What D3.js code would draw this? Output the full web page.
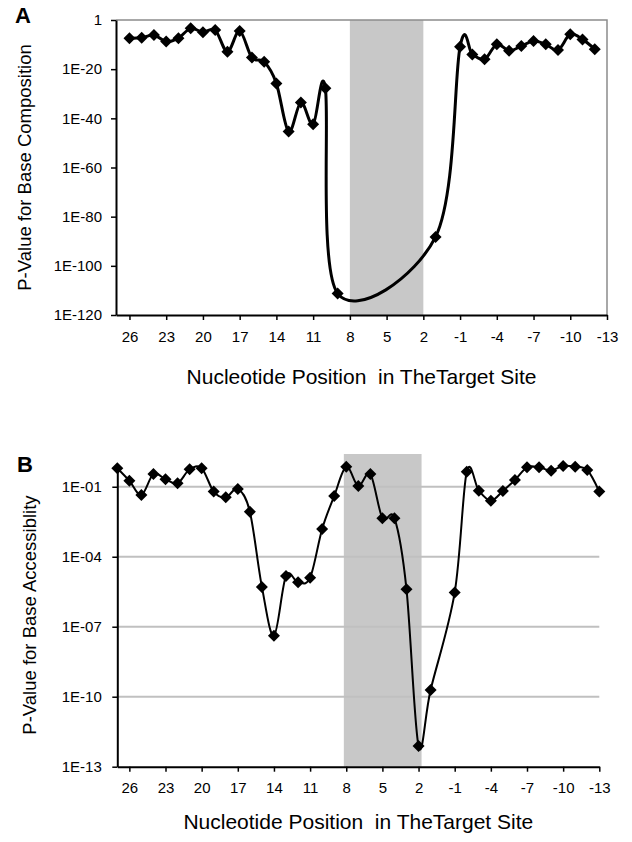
<!DOCTYPE html>
<html>
<head>
<meta charset="utf-8">
<script src="https://cdn.jsdelivr.net/npm/d3@7"></script>
<style>
  html, body { margin: 0; padding: 0; background: #fff; }
  svg { display: block; font-family: "Liberation Sans", Arial, sans-serif; }
  .title { white-space: pre; }
</style>
</head>
<body>
<svg id="chart" width="632" height="842"></svg>
<script>
// ---------- data ----------
// Panel A: P-value for base composition
const posA = [26,25,24,23,22,21,20,19,18,17,16,15,14,13,12,11,10,9,1,-1,-2,-3,-4,-5,-6,-7,-8,-9,-10,-11,-12];
const pA = [4e-8,6e-8,8e-7,1.6e-9,4e-8,4e-4,1e-5,8e-5,1.3e-13,3e-5,5e-16,1e-17,1.6e-26,4e-46,2.5e-34,4e-43,1.6e-28,6e-112,6e-89,
            1.3e-11,1e-14,1e-16,1.3e-10,3e-13,2.5e-11,3e-9,1.3e-10,6e-13,1.6e-6,1.3e-8,1.3e-12];
// Panel B: P-value for base accessibility
const posB = [27,26,25,24,23,22,21,20,19,18,17,16,15,14,13,12,11,10,9,8,7,6,5,4,3,2,1,-1,-2,-3,-4,-5,-6,-7,-8,-9,-10,-11,-12,-13];
const pB = [0.62,0.18,0.044,0.35,0.21,0.14,0.56,0.62,0.062,0.035,0.08,0.0085,5.1e-6,4.1e-8,1.5e-5,8e-6,1.26e-5,1.55e-3,0.04,
            0.72,0.107,0.35,4.5e-3,4.5e-3,4e-6,7.8e-13,1.95e-10,2.95e-6,0.44,0.068,0.025,0.066,0.195,0.68,0.68,0.49,0.78,0.72,0.52,0.062];
const xTicks = [26,23,20,17,14,11,8,5,2,-1,-4,-7,-10,-13];
const xTickLabels = ["26","23","20","17","14","11","8","5","2","-1","-4","-7","-10","-13"];
const yTicksA = [1,1e-20,1e-40,1e-60,1e-80,1e-100,1e-120];
const yTickLabelsA = ["1","1E-20","1E-40","1E-60","1E-80","1E-100","1E-120"];
const yTicksB = [1e-1,1e-4,1e-7,1e-10,1e-13];
const yTickLabelsB = ["1E-01","1E-04","1E-07","1E-10","1E-13"];
const shadeA = [8, 2];
const shadeB = [8.2, 1.75];
const xTitle = "Nucleotide Position  in TheTarget Site";
const yTitleA = "P-Value for Base Composition";
const yTitleB = "P-Value for Base Accessiblity";

// ---------- drawing ----------
const svg = d3.select("#chart");
const diamond = d3.symbol().type(d3.symbolSquare).size(72);
const curve = d3.curveCardinal.tension(0);

function panel(cfg) {
  const g = svg.append("g");
  const x = d3.scaleLinear().domain(cfg.xDomain).range(cfg.xRange);
  const y = d3.scaleLog().domain(cfg.yDomain).range(cfg.yRange);
  const [x0, x1] = cfg.xRange;
  const [yb, yt] = cfg.yRange;

  // shaded region
  g.append("rect")
    .attr("x", x(cfg.shade[0])).attr("width", x(cfg.shade[1]) - x(cfg.shade[0]))
    .attr("y", cfg.shadeTop).attr("height", yb - cfg.shadeTop)
    .attr("fill", "#c8c8c8");

  // gridlines
  if (cfg.grid) {
    g.selectAll(".grid").data(cfg.yTicks.slice(0, -1)).join("line")
      .attr("x1", x0).attr("x2", x1)
      .attr("y1", d => y(d)).attr("y2", d => y(d))
      .attr("stroke", "#c0c0c0").attr("stroke-width", 2);
  }
  // frame
  if (cfg.frame) {
    g.append("path")
      .attr("d", `M${x0},${yt}H${x1}V${yb}`)
      .attr("fill", "none").attr("stroke", "#8c8c8c").attr("stroke-width", 1.5);
  }

  // axes
  const xa = g.append("g").attr("transform", `translate(0,${yb})`)
    .call(d3.axisBottom(x).tickValues(xTicks).tickFormat((d, i) => xTickLabels[i])
      .tickSize(5).tickSizeOuter(0).tickPadding(cfg.xPad));
  const ya = g.append("g").attr("transform", `translate(${x0},0)`)
    .call(d3.axisLeft(y).tickValues(cfg.yTicks).tickFormat((d, i) => cfg.yLabels[i])
      .tickSize(5).tickSizeOuter(0).tickPadding(cfg.yPad));
  [xa, ya].forEach(a => {
    a.select(".domain").attr("stroke", "#000").attr("stroke-width", 2);
    a.selectAll(".tick line").attr("stroke", "#000").attr("stroke-width", 1.5);
    a.selectAll(".tick text").attr("fill", "#000").attr("font-size", 15)
      .attr("font-family", "'Liberation Sans', Arial, sans-serif");
  });

  // line
  const pts = cfg.pos.map((p, i) => [x(p), y(cfg.vals[i])]);
  g.append("path")
    .attr("d", d3.line().curve(curve)(pts))
    .attr("fill", "none").attr("stroke", "#000").attr("stroke-width", cfg.lw)
    .attr("stroke-linejoin", "round");
  g.selectAll(".pt").data(pts).join("path")
    .attr("d", diamond)
    .attr("transform", d => `translate(${d[0]},${d[1]}) rotate(45)`)
    .attr("fill", "#000");

  // titles
  g.append("text").attr("class", "title")
    .attr("x", (x0 + x1) / 2).attr("y", cfg.xTitleY)
    .attr("text-anchor", "middle").attr("font-size", 21).text(xTitle);
  g.append("text").attr("class", "title")
    .attr("transform", `translate(${cfg.yTitleX},${(yb + yt) / 2}) rotate(-90)`)
    .attr("text-anchor", "middle").attr("font-size", 18.5).text(cfg.yTitle);
  g.append("text")
    .attr("x", cfg.letter[0]).attr("y", cfg.letter[1])
    .attr("font-size", 22).attr("font-weight", "bold").text(cfg.letterText);
}

panel({
  pos: posA, vals: pA,
  xDomain: [27.1, -13], xRange: [116, 607],
  yDomain: [1e-120, 1], yRange: [315, 20],
  yTicks: yTicksA, yLabels: yTickLabelsA,
  shade: shadeA, shadeTop: 20,
  grid: false, frame: true, lw: 3,
  xPad: 11, yPad: 9,
  xTitleY: 384, yTitleX: 31, yTitle: yTitleA,
  letter: [15, 23], letterText: "A"
});

panel({
  pos: posB, vals: pB,
  xDomain: [27, -13], xRange: [117.3, 599.3],
  yDomain: [1e-13, 1], yRange: [766.7, 463.4],
  yTicks: yTicksB, yLabels: yTickLabelsB,
  shade: shadeB, shadeTop: 454,
  grid: true, frame: false, lw: 2,
  xPad: 10.5, yPad: 10.5,
  xTitleY: 829, yTitleX: 36, yTitle: yTitleB,
  letter: [17, 472], letterText: "B"
});
</script>
</body>
</html>
